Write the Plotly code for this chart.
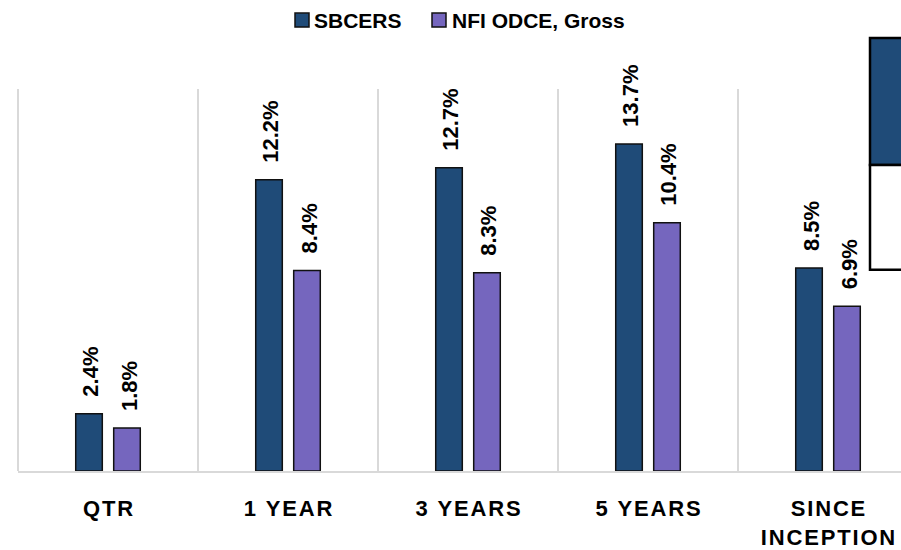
import plotly.graph_objects as go

# Data
categories = ["QTR", "1 YEAR", "3 YEARS", "5 YEARS", "SINCE\nINCEPTION"]
series_names = ["SBCERS", "NFI ODCE, Gross"]
sbcers = [2.4, 12.2, 12.7, 13.7, 8.5]
nfi_odce = [1.8, 8.4, 8.3, 10.4, 6.9]
colors = ["#1f4b78", "#7566be"]

FONT = "Arial, 'Liberation Sans', sans-serif"
W, H = 901, 550
PLOT_L, PLOT_T, PLOT_B = 18, 89, 471.5
PLOT_W = W - PLOT_L
CAT_W = 180.0


def spaced(label):
    # widen letter spacing with hair spaces, line by line
    return "<br>".join("\u200a".join(line) for line in label.split("\n"))


def px_x(px):
    return (px - PLOT_L) / PLOT_W


def px_y(py):
    return (PLOT_B - py) / (PLOT_B - PLOT_T)


cats = [spaced(c) for c in categories]

fig = go.Figure()
for name, vals, col in zip(series_names, [sbcers, nfi_odce], colors):
    fig.add_trace(go.Bar(
        x=cats, y=vals, name=name,
        marker=dict(color=col, line=dict(color="#111111", width=1.5)),
        showlegend=False,
    ))

# rotated value labels above each bar
offsets = [-19, 19]
for vals, off in zip([sbcers, nfi_odce], offsets):
    for c, v in zip(cats, vals):
        fig.add_annotation(
            x=c, y=v, xref="x", yref="y",
            text=f"{v:.1f}%", textangle=-90,
            showarrow=False, xanchor="center", yanchor="bottom",
            xshift=off + 2, yshift=15,
            font=dict(family=FONT, size=22, color="#000000", weight="bold"),
        )

# legend drawn as swatches + labels
legend_items = [(295, 312), (432, 450)]
for (sx, tx), name, col in zip(legend_items, series_names, colors):
    fig.add_shape(type="rect", xref="paper", yref="paper",
                  x0=px_x(sx), x1=px_x(sx + 14), y0=px_y(27), y1=px_y(13),
                  fillcolor=col, line=dict(color="#111111", width=1.5))
    fig.add_annotation(x=px_x(tx), y=px_y(20), xref="paper", yref="paper",
                       text=name, showarrow=False, xanchor="left", yanchor="middle",
                       font=dict(family=FONT, size=21, color="#000000", weight="bold"))

# left border of the plot area
fig.add_shape(type="line", xref="paper", yref="paper", x0=0, x1=0, y0=0, y1=1,
              line=dict(color="#d9d9d9", width=2), layer="below")

# boxes at the right edge
fig.add_shape(type="rect", xref="paper", yref="paper",
              x0=px_x(870), x1=px_x(915), y0=px_y(165), y1=px_y(38),
              fillcolor="#1f4b78", line=dict(color="#000000", width=2.5))
fig.add_shape(type="rect", xref="paper", yref="paper",
              x0=px_x(870), x1=px_x(915), y0=px_y(270), y1=px_y(165),
              fillcolor="#ffffff", line=dict(color="#000000", width=2.5))

fig.update_layout(
    width=W, height=H,
    margin=dict(l=PLOT_L, r=0, t=PLOT_T, b=H - PLOT_B, autoexpand=False),
    paper_bgcolor="#ffffff", plot_bgcolor="#ffffff",
    barmode="group", bargap=0.578, bargroupgap=0.30,
    font=dict(family=FONT, color="#000000"),
    xaxis=dict(
        type="category", automargin=False,
        range=[-0.5, -0.5 + PLOT_W / CAT_W],
        showgrid=True, gridcolor="#d9d9d9", gridwidth=2,
        tickson="boundaries", ticks="", ticklen=0,
        showline=True, linecolor="#d9d9d9", linewidth=2,
        tickfont=dict(family=FONT, size=22, color="#000000", weight="bold"),
        ticklabelstandoff=17,
        zeroline=False, fixedrange=True,
    ),
    yaxis=dict(range=[0, 16], showgrid=False, showticklabels=False,
               zeroline=False, showline=False, ticks="", automargin=False),
)

fig.write_html("out.html")
